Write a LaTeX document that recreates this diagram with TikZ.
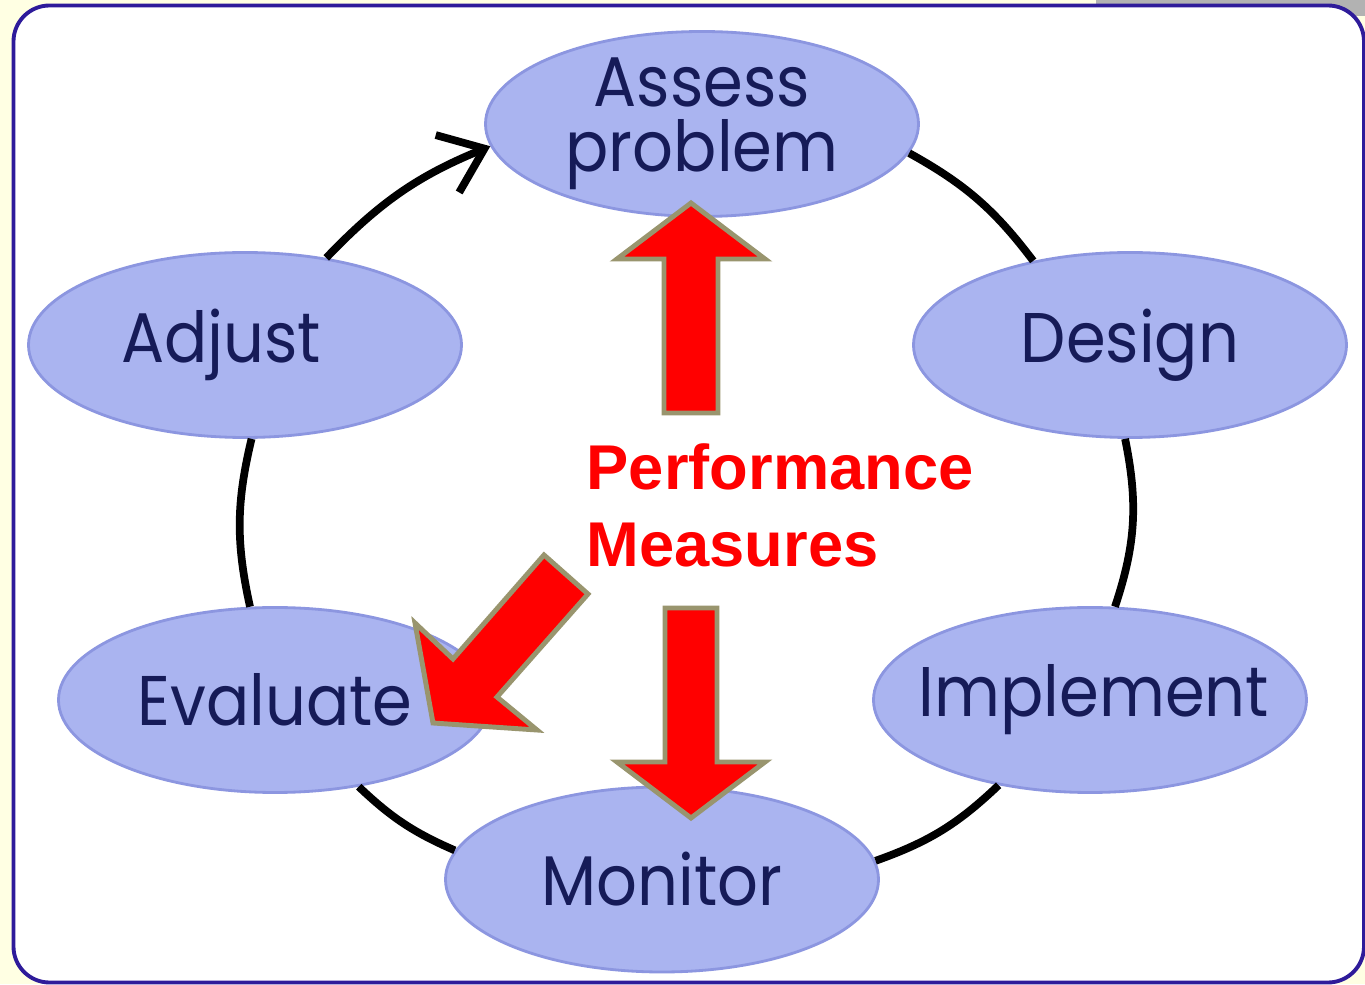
\documentclass[tikz,border=0pt]{standalone}
\usepackage{fontspec}
\usetikzlibrary{shapes.geometric,arrows.meta}
\newfontfamily\stagefont[FakeStretch=0.91]{Poppins}
\newfontfamily\pmfont{Liberation Sans}
\definecolor{stagefill}{RGB}{170,180,240}
\definecolor{stageedge}{RGB}{140,150,224}
\definecolor{stageink}{RGB}{22,27,88}
\definecolor{frameblue}{RGB}{46,27,154}
\definecolor{cream}{RGB}{255,255,227}
\definecolor{arrowedge}{RGB}{153,149,110}
\begin{document}
\begin{tikzpicture}[stage/.style={draw=stageedge,line width=0.8pt,fill=stagefill,ellipse,minimum width=4.33cm,minimum height=1.85cm,inner sep=0pt},
    stagetext/.style={text=stageink,font=\stagefont\fontsize{20}{18.5}\selectfont,align=center,inner sep=0pt},
    loopline/.style={line width=2.2pt,black},
    bigarrow/.style={fill=red,draw=arrowedge,line width=1.4pt,miter limit=10}]
    \useasboundingbox (0,0) rectangle (13.65,9.84);
    \fill[cream] (0,0) rectangle (13.65,9.84);
    \fill[black!30] (10.96,9.68) rectangle (13.65,9.84);
    \draw[frameblue,line width=1.1pt,fill=white,rounded corners=0.36cm] (0.135,0.015) rectangle (13.64,9.785);

    \node[stage,label={[stagetext]center:Assess\\problem}] (assess) at (7.02,8.60) {};
    \node[stage,label={[stagetext]center:Design}] (design) at (11.30,6.39) {};
    \node[stage,label={[stagetext,xshift=0.04cm]center:Implement}] (implement) at (10.90,2.84) {};
    \node[stage,label={[stagetext]center:Monitor}] (monitor) at (6.62,1.045) {};
    \node[stage,label={[stagetext]center:Evaluate}] (evaluate) at (2.75,2.84) {};
    \node[stage,label={[stagetext,xshift=-0.24cm]center:Adjust}] (adjust) at (2.45,6.39) {};

    \draw[loopline,-{Straight Barb[length=0.4cm,width=0.62cm]}] (adjust.47) to[bend left=12] (assess.186);
    \draw[loopline] (assess.352) to[bend left=12] (design.139);
    \draw[loopline] (design.267) to[bend left=15] (implement.75);
    \draw[loopline] (implement.223) to[bend left=12] (monitor.5);
    \draw[loopline] (monitor.172) to[bend left=10] (evaluate.314);
    \draw[loopline] (evaluate.105) to[bend left=13] (adjust.274);

    \node[anchor=base west,inner sep=0pt,text=red,font=\pmfont\bfseries\fontsize{18}{22}\selectfont,align=left] (measures) at (5.86,4.17) {Performance\\Measures};

    \draw[bigarrow] (6.91,7.81) -- (7.65,7.25) -- (7.18,7.25) -- (7.18,5.71) -- (6.64,5.71) -- (6.64,7.25) -- (6.17,7.25) -- cycle;
    \draw[bigarrow] (6.91,1.66) -- (7.65,2.22) -- (7.17,2.22) -- (7.17,3.76) -- (6.65,3.76) -- (6.65,2.22) -- (6.17,2.22) -- cycle;
    \draw[bigarrow] (5.44,4.29) -- (4.53,3.25) -- (4.15,3.61) -- (4.33,2.61) -- (5.37,2.54) -- (4.97,2.87) -- (5.88,3.90) -- cycle;
  \end{tikzpicture}
\end{document}
